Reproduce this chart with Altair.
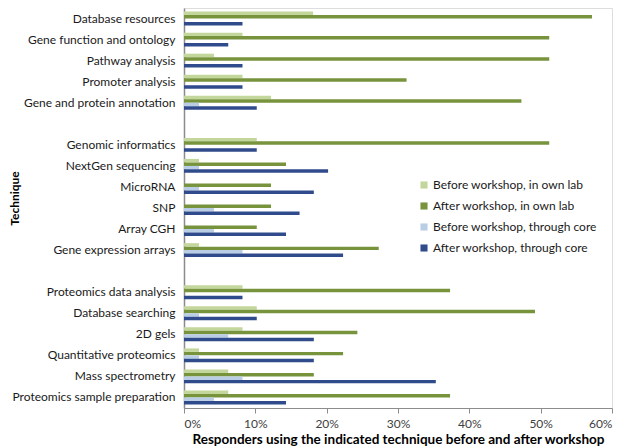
import altair as alt
import pandas as pd

techniques = [
    "Database resources",
    "Gene function and ontology",
    "Pathway analysis",
    "Promoter analysis",
    "Gene and protein annotation",
    "Genomic informatics",
    "NextGen sequencing",
    "MicroRNA",
    "SNP",
    "Array CGH",
    "Gene expression arrays",
    "Proteomics data analysis",
    "Database searching",
    "2D gels",
    "Quantitative proteomics",
    "Mass spectrometry",
    "Proteomics sample preparation",
]

series = [
    "Before workshop, in own lab",
    "After workshop, in own lab",
    "Before workshop, through core",
    "After workshop, through core",
]

colors = ["#C3D69B", "#77933C", "#B9CDE5", "#2F4B8C"]

# percent of responders
before_own = [18.1, 8.2, 4.2, 8.2, 12.2, 10.2, 2.1, 0, 0, 0, 2.1, 8.2, 10.2, 8.2, 2.1, 6.2, 6.2]
after_own = [57.2, 51.2, 51.2, 31.2, 47.3, 51.2, 14.3, 12.2, 12.2, 10.2, 27.3, 37.3, 49.2, 24.3, 22.3, 18.2, 37.3]
before_core = [0, 0, 0, 0, 2.1, 0, 2.1, 2.1, 4.2, 4.2, 8.2, 0, 2.1, 6.2, 2.1, 8.2, 4.2]
after_core = [8.2, 6.2, 8.2, 8.2, 10.2, 10.2, 20.2, 18.2, 16.2, 14.3, 22.3, 8.2, 10.2, 18.2, 18.2, 35.3, 14.3]

x_ticks = [0, 0.1, 0.2, 0.3, 0.4, 0.5, 0.6]

rows = []
for i, t in enumerate(techniques):
    for s, vals in zip(series, [before_own, after_own, before_core, after_core]):
        rows.append({"Technique": t, "Series": s, "Value": vals[i] / 100.0})
df = pd.DataFrame(rows)

y_domain = techniques[:5] + [" "] + techniques[5:11] + ["  "] + techniques[11:]

FONT = "Lato"

chart = alt.Chart(df).mark_bar().encode(
    x=alt.X(
        "Value:Q",
        scale=alt.Scale(domain=[0, 0.6], nice=False, zero=True),
        axis=alt.Axis(
            format="%",
            values=x_ticks,
            title="Responders using the indicated technique before and after workshop",
            grid=False,
            domainColor="#8c8c8c",
            tickColor="#8c8c8c",
            tickSize=5,
            labelPadding=5,
            labelFontSize=12,
            labelColor="#404040",
            labelFont=FONT,
            titleFont=FONT,
            titleFontSize=13.5,
            titleFontWeight="bold",
            titleColor="#000000",
            titlePadding=3,
        ),
    ),
    y=alt.Y(
        "Technique:N",
        sort=y_domain,
        scale=alt.Scale(domain=y_domain, paddingInner=0.34, paddingOuter=0.17),
        axis=alt.Axis(
            title="Technique",
            ticks=False,
            labelPadding=9,
            labelFontSize=12,
            labelColor="#1a1a1a",
            labelFont=FONT,
            labelLimit=300,
            domainColor="#8c8c8c",
            domainWidth=1.5,
            titleFont=FONT,
            titleFontSize=12,
            titleFontWeight="bold",
            titleColor="#000000",
            titleAngle=-90,
            titleX=-175,
            titleY=190,
            titleAlign="center",
            titleBaseline="top",
        ),
    ),
    yOffset=alt.YOffset(
        "Series:N",
        sort=series,
        scale=alt.Scale(domain=series, paddingInner=0, paddingOuter=0),
    ),
    color=alt.Color(
        "Series:N",
        sort=series,
        scale=alt.Scale(domain=series, range=colors),
        legend=alt.Legend(
            title=None,
            orient="none",
            legendX=234,
            legendY=171,
            symbolType="square",
            symbolSize=50,
            symbolStrokeWidth=0,
            labelFontSize=12,
            labelFont=FONT,
            labelColor="#1a1a1a",
            labelLimit=300,
            rowPadding=9,
            labelOffset=3,
        ),
    ),
).properties(
    width=428,
    height=400,
    autosize=alt.AutoSizeParams(type="none"),
    padding={"left": 176, "top": 0, "right": 2, "bottom": 40},
).configure_view(stroke=None).configure(background="white")

chart.save("out.html", embed_options={"renderer": "svg", "actions": False})
